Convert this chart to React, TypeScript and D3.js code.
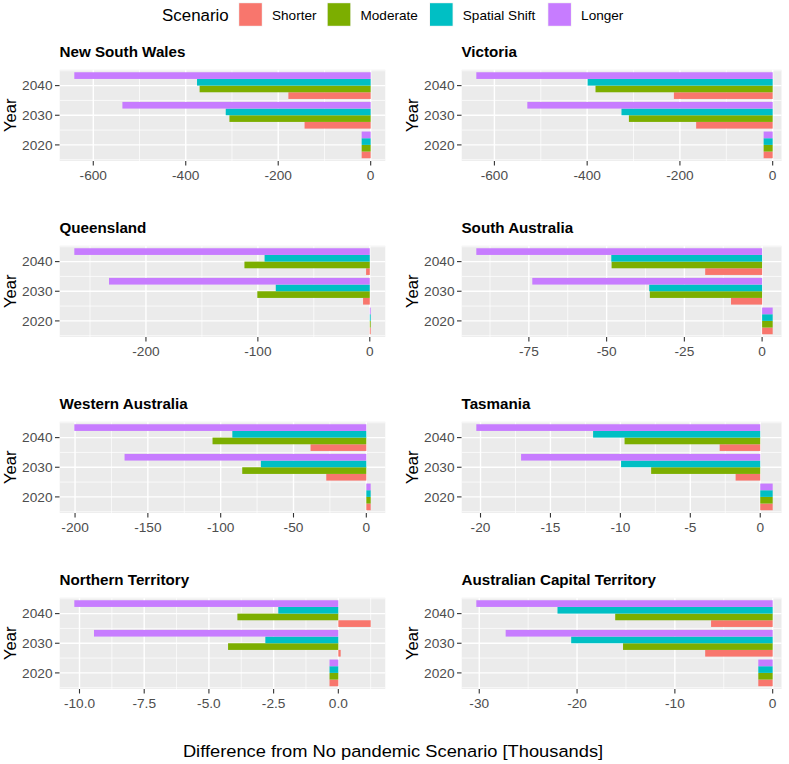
import React from "react";
import * as d3 from "d3";

const REGIONS = [
  "New South Wales",
  "Victoria",
  "Queensland",
  "South Australia",
  "Western Australia",
  "Tasmania",
  "Northern Territory",
  "Australian Capital Territory",
];
const YEARS = [2020, 2030, 2040];
const SCENARIOS = ["Shorter", "Moderate", "Spatial Shift", "Longer"];
const COLORS = ["#F8766D", "#7CAE00", "#00BFC4", "#C77CFF"];

// rows = years 2020, 2030, 2040 ; columns = Shorter, Moderate, Spatial Shift, Longer (thousands)
const NSW = [[-19.5, -19.5, -19.5, -19.5], [-143, -305.5, -313.5, -537], [-178, -370, -375.6, -641]];
const VIC = [[-19.5, -19.5, -19.5, -19.5], [-165, -310, -326, -529], [-213, -382, -399, -639]];
const QLD = [[0.8, 0.8, 0.8, 0.8], [-6, -100.5, -84, -233], [-3.3, -112, -94, -264]];
const SA = [[3.4, 3.4, 3.4, 3.4], [-10, -36.1, -36.3, -73.9], [-18.3, -48.4, -48.5, -91.9]];
const WA = [[3, 3, 3, 3], [-27.5, -85.2, -72.4, -166], [-38.3, -105.6, -92, -200.5]];
const TAS = [[0.89, 0.89, 0.89, 0.89], [-1.76, -7.8, -9.95, -17.1], [-2.9, -9.7, -11.95, -20.3]];
const NT = [[-0.34, -0.34, -0.34, -0.34], [0.09, -4.26, -2.82, -9.44], [1.25, -3.9, -2.32, -10.2]];
const ACT = [[-1.47, -1.47, -1.47, -1.47], [-6.9, -15.3, -20.6, -27.3], [-6.3, -16.1, -22.0, -30.3]];
const VALUES = [NSW, VIC, QLD, SA, WA, TAS, NT, ACT];

const NSW_TICKS = [-600, -400, -200, 0];
const VIC_TICKS = [-600, -400, -200, 0];
const QLD_TICKS = [-200, -100, 0];
const SA_TICKS = [-75, -50, -25, 0];
const WA_TICKS = [-200, -150, -100, -50, 0];
const TAS_TICKS = [-20, -15, -10, -5, 0];
const NT_TICKS = [-10, -7.5, -5, -2.5, 0];
const ACT_TICKS = [-30, -20, -10, 0];
const TICKS = [NSW_TICKS, VIC_TICKS, QLD_TICKS, SA_TICKS, WA_TICKS, TAS_TICKS, NT_TICKS, ACT_TICKS];

const W = 789;
const H = 764;
const COL_X = [59.5, 461.5];
const PANEL_W = 326;
const VIS_RIGHT = [385.5, 781.7];
const ROW_Y0 = 69.5;
const ROW_STEP = 176;
const PANEL_H = 91.5;
const SX = 1.07;
const FONT = "'Liberation Sans', Arial, sans-serif";
const TICK_COL = "#4D4D4D";

function T(props: any) {
  const { x, y, sx = SX, children, ...rest } = props;
  return (
    <text transform={`translate(${x},${y}) scale(${sx},1)`} fontFamily={FONT} {...rest}>
      {children}
    </text>
  );
}

function minorOf(ticks: number[], lo: number, hi: number) {
  const step = ticks[1] - ticks[0];
  const out: number[] = [];
  for (let v = ticks[0] - step / 2; v <= ticks[ticks.length - 1] + step / 2 + 1e-9; v += step) {
    if (v >= lo && v <= hi) out.push(v);
  }
  return out;
}

function Panel({ idx }: { idx: number }) {
  const col = idx % 2;
  const row = Math.floor(idx / 2);
  const left = COL_X[col];
  const top = ROW_Y0 + ROW_STEP * row;
  const visW = VIS_RIGHT[col] - left;
  const bottom = top + PANEL_H;
  const data = VALUES[idx];
  const ticks = TICKS[idx];
  const all = data.flat();
  const mn = Math.min(0, d3.min(all) as number);
  const mx = Math.max(0, d3.max(all) as number);
  const ex = (mx - mn) * 0.05;
  const x = d3.scaleLinear().domain([mn - ex, mx + ex]).range([left, left + PANEL_W]);
  const y = d3.scaleLinear().domain([2014.57, 2045.43]).range([bottom, top]);
  const xMinor = minorOf(ticks, mn - ex, mx + ex);
  const yMinor = minorOf(YEARS, 2014.57, 2045.43);
  const decimals = ticks.some((t) => !Number.isInteger(t)) ? 1 : 0;
  const fmt = (t: number) => (decimals ? t.toFixed(1) : String(t));
  const clipId = `clip${idx}`;
  const barW = 9 / SCENARIOS.length;
  return (
    <g>
      <defs>
        <clipPath id={clipId}>
          <rect x={left} y={top} width={visW} height={PANEL_H} />
        </clipPath>
      </defs>
      <T x={left} y={top - 13} fontSize={14.2} fontWeight="bold" fill="#000">
        {REGIONS[idx]}
      </T>
      <g clipPath={`url(#${clipId})`}>
        <rect x={left} y={top} width={visW} height={PANEL_H} fill="#EBEBEB" />
        {xMinor.map((v, i) => (
          <line key={"xm" + i} x1={x(v)} x2={x(v)} y1={top} y2={bottom} stroke="#fff" strokeWidth={0.7} />
        ))}
        {yMinor.map((v, i) => (
          <line key={"ym" + i} x1={left} x2={left + visW} y1={y(v)} y2={y(v)} stroke="#fff" strokeWidth={0.7} />
        ))}
        {ticks.map((v, i) => (
          <line key={"xM" + i} x1={x(v)} x2={x(v)} y1={top} y2={bottom} stroke="#fff" strokeWidth={1.4} />
        ))}
        {YEARS.map((v, i) => (
          <line key={"yM" + i} x1={left} x2={left + visW} y1={y(v)} y2={y(v)} stroke="#fff" strokeWidth={1.4} />
        ))}
        {YEARS.map((yr, yi) =>
          SCENARIOS.map((s, si) => {
            const v = data[yi][si];
            const lo = yr - 4.5 + si * barW;
            const hi = lo + barW;
            return (
              <rect
                key={yr + s}
                x={x(Math.min(0, v))}
                width={Math.abs(x(v) - x(0))}
                y={y(hi)}
                height={y(lo) - y(hi)}
                fill={COLORS[si]}
              />
            );
          })
        )}
      </g>
      {YEARS.map((yr) => (
        <g key={"yt" + yr}>
          <line x1={left - 4.5} x2={left} y1={y(yr)} y2={y(yr)} stroke="#333" strokeWidth={1.1} />
          <T x={left - 7} y={y(yr) + 4.6} fontSize={12.8} fill={TICK_COL} textAnchor="end">
            {yr}
          </T>
        </g>
      ))}
      {ticks.map((t) => (
        <g key={"xt" + t}>
          <line x1={x(t)} x2={x(t)} y1={bottom} y2={bottom + 4.5} stroke="#333" strokeWidth={1.1} />
          <T x={x(t)} y={bottom + 18.8} fontSize={12.8} fill={TICK_COL} textAnchor="middle">
            {fmt(t)}
          </T>
        </g>
      ))}
      <text
        transform={`translate(${left - 44},${(top + bottom) / 2}) rotate(-90)`}
        fontFamily={FONT}
        fontSize={16.5}
        textAnchor="middle"
        fill="#000"
      >
        Year
      </text>
    </g>
  );
}

const LEGEND_KEYS_X = [238.5, 327, 429.3, 547.6];

export default function App() {
  return (
    <svg
      width={W}
      height={H}
      style={{ position: "absolute", left: 0, top: 0, background: "#fff" }}
    >
      <rect x={0} y={0} width={W} height={H} fill="#fff" />
      <T x={162} y={20.8} fontSize={15.8} fill="#000">
        Scenario
      </T>
      {SCENARIOS.map((s, i) => (
        <g key={s}>
          <rect x={LEGEND_KEYS_X[i]} y={2.5} width={24} height={24} fill="#F2F2F2" />
          <rect x={LEGEND_KEYS_X[i] + 0.7} y={3.2} width={22.6} height={22.6} fill={COLORS[i]} />
          <T x={LEGEND_KEYS_X[i] + 33.5} y={19.5} fontSize={12.7} fill="#000">
            {s}
          </T>
        </g>
      ))}
      {REGIONS.map((r, i) => (
        <Panel key={r} idx={i} />
      ))}
      <T x={393} y={757} fontSize={17.1} fill="#000" textAnchor="middle">
        Difference from No pandemic Scenario [Thousands]
      </T>
    </svg>
  );
}
